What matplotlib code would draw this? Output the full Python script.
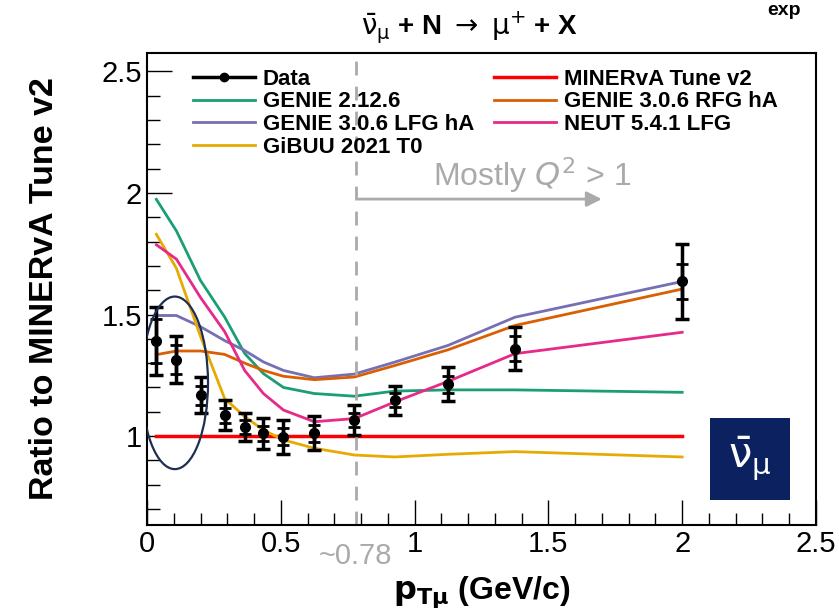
import matplotlib
matplotlib.use("Agg")
import matplotlib.pyplot as plt
from matplotlib.lines import Line2D
from matplotlib.patches import Ellipse, Rectangle
from matplotlib.ticker import MultipleLocator, FuncFormatter

plt.rcParams['font.family'] = ['Liberation Sans', 'DejaVu Sans']
plt.rcParams['mathtext.fontset'] = 'dejavusans'

# bin centres of p_T (GeV/c)
pt = [0.035, 0.11, 0.2, 0.29, 0.365, 0.435, 0.51, 0.625, 0.775, 0.925, 1.125, 1.375, 2.0]

# data ratio with total and statistical errors
data = [1.39, 1.315, 1.168, 1.085, 1.038, 1.011, 0.997, 1.011, 1.066, 1.148, 1.213, 1.36, 1.636]
err_tot = [0.14, 0.095, 0.073, 0.062, 0.058, 0.065, 0.07, 0.07, 0.062, 0.06, 0.07, 0.09, 0.155]
err_stat = [0.09, 0.06, 0.04, 0.03, 0.03, 0.03, 0.035, 0.035, 0.03, 0.03, 0.035, 0.05, 0.073]

# model ratios to MINERvA Tune v2
tune_v2 = [1.0] * 13
genie_2126 = [1.974, 1.844, 1.64, 1.49, 1.34, 1.257, 1.2, 1.175, 1.164, 1.185, 1.19, 1.19, 1.18]
genie_lfg = [1.496, 1.496, 1.45, 1.393, 1.352, 1.305, 1.27, 1.24, 1.255, 1.304, 1.373, 1.489, 1.636]
gibuu = [1.83, 1.69, 1.41, 1.155, 1.08, 1.025, 0.984, 0.95, 0.922, 0.914, 0.925, 0.936, 0.914]
genie_rfg = [1.335, 1.35, 1.35, 1.336, 1.30, 1.27, 1.246, 1.232, 1.243, 1.29, 1.355, 1.455, 1.605]
neut = [1.787, 1.728, 1.57, 1.43, 1.27, 1.175, 1.107, 1.059, 1.072, 1.14, 1.225, 1.339, 1.427]

fig = plt.figure(figsize=(8.39, 6.15), dpi=100)
ax = fig.add_axes([0.1752, 0.1463, 0.7974, 0.7675])

ax.errorbar(pt, data, yerr=err_tot, fmt='o', color='black', ms=7,
            elinewidth=2.5, capsize=5, capthick=2.5, zorder=10)
ax.errorbar(pt, data, yerr=err_stat, fmt='none', ecolor='black',
            elinewidth=2.5, capsize=4, capthick=2, zorder=10)
h_data = Line2D([], [], color='black', lw=2.5, marker='o', ms=6)

h_tune, = ax.plot(pt, tune_v2, color='#ff0000', lw=2.5)
h_g2, = ax.plot(pt, genie_2126, color='#1b9e77', lw=2)
h_lfg, = ax.plot(pt, genie_lfg, color='#7570b3', lw=2)
h_gibuu, = ax.plot(pt, gibuu, color='#e6ab02', lw=2)
h_rfg, = ax.plot(pt, genie_rfg, color='#d95f02', lw=2)
h_neut, = ax.plot(pt, neut, color='#e7298a', lw=2)

ax.set_xlim(0, 2.5)
ax.set_ylim(0.634, 2.576)
ax.xaxis.set_major_locator(MultipleLocator(0.5))
ax.xaxis.set_minor_locator(MultipleLocator(0.1))
ax.yaxis.set_major_locator(MultipleLocator(0.5))
ax.yaxis.set_minor_locator(MultipleLocator(0.1))
ax.tick_params(which='both', direction='in', labelsize=21, width=1)
ax.tick_params(which='major', length=18)
ax.tick_params(which='minor', length=9)
ax.xaxis.set_major_formatter(FuncFormatter(lambda v, p: '%g' % v))
ax.yaxis.set_major_formatter(FuncFormatter(lambda v, p: '%g' % v))
for s in ax.spines.values():
    s.set_linewidth(1.5)

# Q^2 region marker
ax.axvline(0.78, color='#aaaaaa', ls=(0, (5, 4)), lw=2)
ax.annotate('', xy=(1.71, 1.975), xytext=(0.78, 1.975),
            arrowprops=dict(arrowstyle='-|>,head_length=0.9,head_width=0.45', color='#aaaaaa', lw=2))
ax.text(1.07, 2.03, r'Mostly $Q^2$ > 1', color='#aaaaaa', fontsize=23)
ax.text(0.78, -0.035, '~0.78', color='#aaaaaa', fontsize=21, ha='center', va='top',
        transform=ax.get_xaxis_transform())

ax.add_patch(Ellipse((0.104, 1.219), 0.248, 0.71, fill=False, ec='#1f2f52', lw=1.6, zorder=11))

ax.legend([h_data, h_g2, h_lfg, h_gibuu, h_tune, h_rfg, h_neut],
          ['Data', 'GENIE 2.12.6', 'GENIE 3.0.6 LFG hA', 'GiBUU 2021 T0',
           'MINERvA Tune v2', 'GENIE 3.0.6 RFG hA', 'NEUT 5.4.1 LFG'],
          ncol=2, frameon=False, loc='upper left', bbox_to_anchor=(0.045, 1.0),
          prop={'weight': 'bold', 'size': 16}, handlelength=2.8, handletextpad=0.35,
          labelspacing=0.08, columnspacing=0.9, borderaxespad=0.3)

ax.set_xlabel(r'$\mathbf{p}_{\mathbf{T\mu}}$ (GeV/c)', fontsize=23, fontweight='bold', labelpad=12)
ax.set_ylabel('Ratio to MINERvA Tune v2', fontsize=24.5, fontweight='bold', labelpad=30)

fig.text(0.56, 0.955, r'$\bar{\mathrm{\nu}}_{\mathrm{\mu}}$ + N $\rightarrow$ $\mathrm{\mu}^{+}$ + X',
         fontsize=20, fontweight='bold', ha='center', va='center')
fig.text(0.915, 0.997, 'exp', fontsize=14, fontweight='bold', ha='left', va='top')

# antineutrino badge
fig.patches.append(Rectangle((0.846, 0.187), 0.096, 0.133, transform=fig.transFigure,
                             facecolor='#0b2160', edgecolor='none'))
fig.text(0.894, 0.253, r'$\bar{\mathrm{\nu}}_{\mathrm{\mu}}$', color='white', fontsize=30,
         ha='center', va='center')

fig.savefig('out.png', dpi=100)
